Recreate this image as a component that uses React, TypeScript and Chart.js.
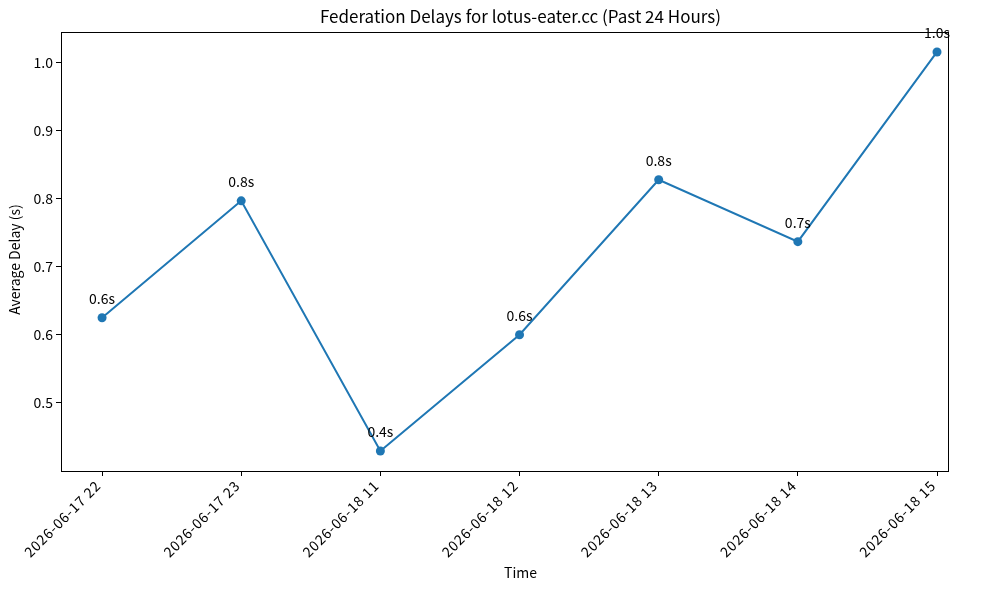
import React, { useEffect, useRef } from "react";
import { Chart, registerables } from "chart.js";

Chart.register(...registerables);

const timeLabels = [
  "2026-06-17 22",
  "2026-06-17 23",
  "2026-06-18 11",
  "2026-06-18 12",
  "2026-06-18 13",
  "2026-06-18 14",
  "2026-06-18 15",
];
const avgDelay = [0.625, 0.797, 0.429, 0.6, 0.828, 0.737, 1.016];
const yTicks = [0.5, 0.6, 0.7, 0.8, 0.9, 1.0];
const titleText = "Federation Delays for lotus-eater.cc (Past 24 Hours)";
const xTitle = "Time";
const yTitle = "Average Delay (s)";

const FONT = "'Noto Sans CJK JP', 'Noto Sans', sans-serif";
const BLUE = "#1f77b4";

export default function App() {
  const ref = useRef<HTMLCanvasElement | null>(null);

  useEffect(() => {
    const canvas = ref.current;
    if (!canvas) return;
    const dmin = Math.min(...avgDelay);
    const dmax = Math.max(...avgDelay);
    const range = dmax - dmin;

    const overlay = {
      id: "overlay",
      afterDraw(chart: any) {
        const ctx = chart.ctx;
        const a = chart.chartArea;
        const cx = (a.left + a.right) / 2 + 16;
        ctx.save();
        ctx.strokeStyle = "#000";
        ctx.lineWidth = 1;
        ctx.strokeRect(Math.round(a.left) + 0.5, Math.round(a.top) + 0.5, Math.round(a.right - a.left), Math.round(a.bottom - a.top));
        ctx.fillStyle = "#000";
        // title
        ctx.font = `17px ${FONT}`;
        ctx.textAlign = "center";
        ctx.textBaseline = "alphabetic";
        ctx.fillText(titleText, cx, 23);
        // x title
        ctx.font = `14px ${FONT}`;
        ctx.fillText(xTitle, cx, 578);
        // y title
        ctx.save();
        ctx.translate(20, (a.top + a.bottom) / 2 + 8);
        ctx.rotate(-Math.PI / 2);
        ctx.fillText(yTitle, 0, 0);
        ctx.restore();
        // x tick labels (rotated, right-aligned like matplotlib)
        const xs = chart.scales.x;
        ctx.font = `14px ${FONT}`;
        ctx.textAlign = "right";
        ctx.textBaseline = "bottom";
        (ctx as any).letterSpacing = "0.8px";
        timeLabels.forEach((lab, i) => {
          const px = xs.getPixelForValue(i);
          ctx.save();
          ctx.translate(px + 1, a.bottom + 17);
          ctx.rotate(-Math.PI / 4);
          ctx.fillText(lab, 0, 0);
          ctx.restore();
        });
        (ctx as any).letterSpacing = "0px";
        // data labels
        const meta = chart.getDatasetMeta(0);
        ctx.font = `14px ${FONT}`;
        ctx.textAlign = "center";
        ctx.textBaseline = "alphabetic";
        meta.data.forEach((pt: any, i: number) => {
          ctx.fillText(avgDelay[i].toFixed(1) + "s", pt.x, pt.y - 14);
        });
        ctx.restore();
      },
    };

    const chart = new Chart(canvas, {
      type: "line",
      data: {
        datasets: [
          {
            data: avgDelay.map((v, i) => ({ x: i, y: v })),
            borderColor: BLUE,
            backgroundColor: BLUE,
            borderWidth: 2,
            pointRadius: 4.5,
            pointBorderWidth: 0,
            pointBackgroundColor: BLUE,
            tension: 0,
          },
        ],
      },
      options: {
        animation: false,
        responsive: false,
        devicePixelRatio: 1,
        layout: { padding: { top: 32, left: 0, right: 41, bottom: 0 } },
        plugins: {
          legend: { display: false },
          tooltip: { enabled: false },
          title: { display: false },
        },
        scales: {
          x: {
            type: "linear",
            min: -0.295,
            max: 6.079,
            afterBuildTicks: (scale: any) => {
              scale.ticks = timeLabels.map((_, i) => ({ value: i }));
            },
            afterFit: (scale: any) => {
              scale.height = 119;
            },
            ticks: {
              display: false,
              autoSkip: false,
            },
            grid: {
              display: true,
              drawOnChartArea: false,
              drawTicks: true,
              tickLength: 5,
              tickColor: "#000",
              color: "#000",
            },
            border: { display: true, color: "#000", width: 1 },
          },
          y: {
            type: "linear",
            min: dmin - 0.05 * range,
            max: dmax + 0.05 * range,
            afterBuildTicks: (scale: any) => {
              scale.ticks = yTicks.map((v) => ({ value: v }));
            },
            afterFit: (scale: any) => {
              scale.width = 61;
            },
            ticks: {
              padding: 3,
              color: "#000",
              font: { family: FONT, size: 14 },
              callback: (v: any) => Number(v).toFixed(1),
            },
            grid: {
              display: true,
              drawOnChartArea: false,
              drawTicks: true,
              tickLength: 5,
              tickColor: "#000",
              color: "#000",
            },
            border: { display: true, color: "#000", width: 1 },
          },
        },
      },
      plugins: [overlay],
    } as any);

    return () => chart.destroy();
  }, []);

  return (
    <div style={{ position: "fixed", left: 0, top: 0, width: 989, height: 590, background: "#fff" }}>
      <canvas ref={ref} width={989} height={590} style={{ display: "block", width: 989, height: 590 }} />
    </div>
  );
}
